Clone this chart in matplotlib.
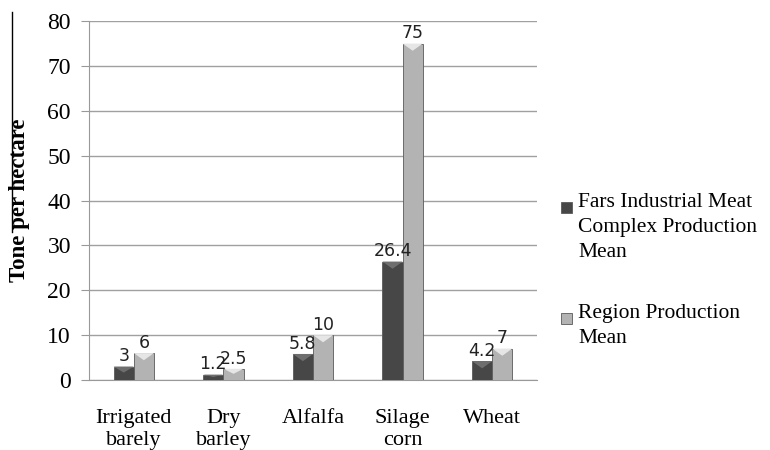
import matplotlib.pyplot as plt
from matplotlib.patches import Polygon, Rectangle
from matplotlib.lines import Line2D
import numpy as np

# Crop yields, tonnes per hectare
crops = ["Irrigated\nbarely", "Dry\nbarley", "Alfalfa", "Silage\ncorn", "Wheat"]
fars_mean = [3, 1.2, 5.8, 26.4, 4.2]
region_mean = [6, 2.5, 10, 75, 7]
series_names = ["Fars Industrial Meat\nComplex Production\nMean",
                "Region Production\nMean"]
yticks = [0, 10, 20, 30, 40, 50, 60, 70, 80]

serif = "Liberation Serif"

fig = plt.figure(figsize=(7.7, 4.5), dpi=100)
ax = fig.add_axes([0.1156, 0.1556, 0.5818, 0.7974])

x = np.arange(len(crops))
w = 0.225
dark, dark_top = "#474747", "#6e6e6e"
light, light_top = "#b3b3b3", "#e6e6e6"


def bevel_bars(xs, vals, face, top):
    bars = ax.bar(xs, vals, w, color=face, edgecolor="#5a5a5a", linewidth=0.6, zorder=3)
    for b in bars:
        x0, x1 = b.get_x(), b.get_x() + b.get_width()
        h = b.get_height()
        tri_h = min(1.6, h * 0.45)
        ax.add_patch(Polygon([(x0, h), (x1, h), ((x0 + x1) / 2, h - tri_h)],
                             closed=True, facecolor=top, edgecolor="none", zorder=4))
    return bars


b1 = bevel_bars(x - w / 2, fars_mean, dark, dark_top)
b2 = bevel_bars(x + w / 2, region_mean, light, light_top)

for bars, vals in ((b1, fars_mean), (b2, region_mean)):
    for b, v in zip(bars, vals):
        ax.text(b.get_x() + b.get_width() / 2, v + 0.25, f"{v:g}",
                ha="center", va="bottom", fontsize=12.5, color="#222222",
                family="DejaVu Sans", zorder=5)

ax.set_xlim(-0.5, len(crops) - 0.5)
ax.set_ylim(0, 80)
ax.set_yticks(yticks)
ax.set_yticklabels([str(t) for t in yticks], family=serif, fontsize=17)
ax.set_xticks(x)
ax.set_xticklabels(crops, family=serif, fontsize=16, linespacing=1.22)
ax.tick_params(axis="x", length=0, pad=21)
ax.tick_params(axis="y", length=6, color="#999999", pad=7)
ax.yaxis.grid(True, color="#a0a0a0", linewidth=1.0, zorder=0)
ax.set_axisbelow(True)
for s in ("top", "right"):
    ax.spines[s].set_visible(False)
ax.spines["left"].set_color("#999999")
ax.spines["bottom"].set_color("#999999")
ax.spines["bottom"].set_zorder(2)

fig.text(0.0258, 0.554, "Tone per hectare", family=serif, fontsize=16.5,
         fontweight="bold", rotation=90, ha="center", va="center")
fig.add_artist(Line2D([0.0152, 0.0152], [0.973, 0.484], color="black", linewidth=1.0))

# legend drawn by hand so each swatch sits on the first line of its label
legend_items = [(dark, series_names[0], 0.571), (light, series_names[1], 0.325)]
for face, name, ytop in legend_items:
    fig.add_artist(Rectangle((0.7286, ytop - 0.044), 0.0143, 0.0244,
                             transform=fig.transFigure, facecolor=face,
                             edgecolor="#5a5a5a", linewidth=0.6))
    fig.text(0.7506, ytop, name, family=serif, fontsize=15.5, va="top",
             ha="left", linespacing=1.43)

fig.savefig("out.png", dpi=100)
